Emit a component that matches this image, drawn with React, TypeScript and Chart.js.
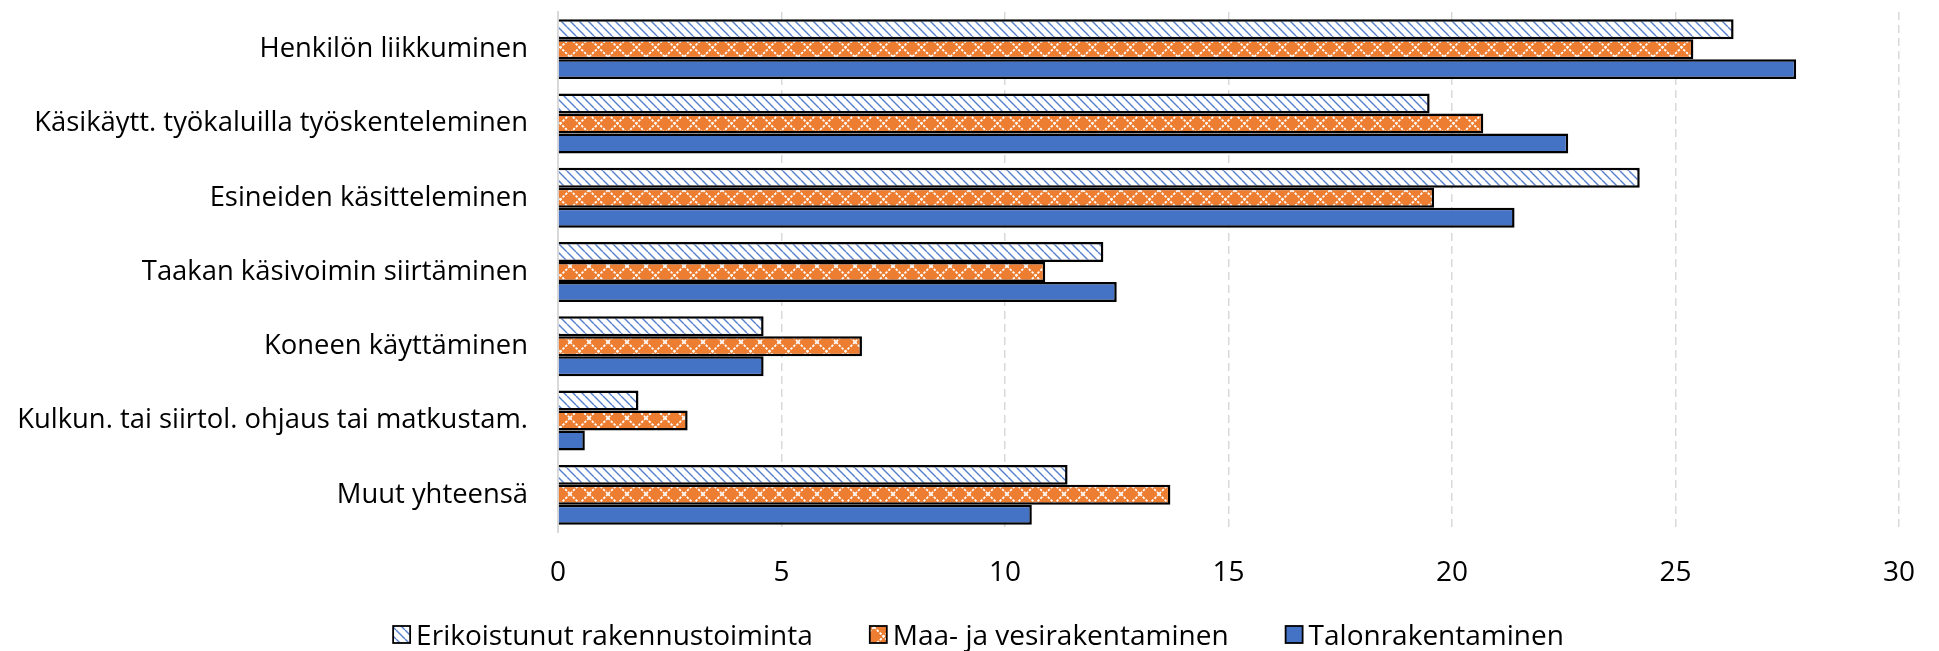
import React, { useEffect, useRef } from "react";
import { Chart, registerables } from "chart.js";

Chart.register(...registerables);

const categories = [
  "Henkilön liikkuminen",
  "Käsikäytt. työkaluilla työskenteleminen",
  "Esineiden käsitteleminen",
  "Taakan käsivoimin siirtäminen",
  "Koneen käyttäminen",
  "Kulkun. tai siirtol. ohjaus tai matkustam.",
  "Muut yhteensä",
];

const seriesNames = [
  "Erikoistunut rakennustoiminta",
  "Maa- ja vesirakentaminen",
  "Talonrakentaminen",
];

const erikoistunut = [26.3, 19.5, 24.2, 12.2, 4.6, 1.8, 11.4];
const maaJaVesi = [25.4, 20.7, 19.6, 10.9, 6.8, 2.9, 13.7];
const talonrakentaminen = [27.7, 22.6, 21.4, 12.5, 4.6, 0.6, 10.6];

const xTicks = [0, 5, 10, 15, 20, 25, 30];

const FONT = "'Open Sans', 'Noto Sans', sans-serif";
const FONT_SIZE = 28;
const CAT_FONT_SIZE = 27.4;

function makeHatch(): CanvasPattern | string {
  const s = 9;
  const c = document.createElement("canvas");
  c.width = s;
  c.height = s;
  const g = c.getContext("2d");
  if (!g) return "#fff";
  g.fillStyle = "#ffffff";
  g.fillRect(0, 0, s, s);
  g.strokeStyle = "rgba(68,114,196,0.9)";
  g.lineWidth = 1.4;
  for (const o of [-s, 0, s]) {
    g.beginPath();
    g.moveTo(o, 0);
    g.lineTo(o + s, s);
    g.stroke();
  }
  return g.createPattern(c, "repeat") || "#fff";
}

function makeDiamond(): CanvasPattern | string {
  const s = 19;
  const c = document.createElement("canvas");
  c.width = s;
  c.height = s;
  const g = c.getContext("2d");
  if (!g) return "#ED7D31";
  g.fillStyle = "#ED7D31";
  g.fillRect(0, 0, s, s);
  g.strokeStyle = "#ffffff";
  g.lineWidth = 1.8;
  g.setLineDash([2.5, 1.5]);
  g.beginPath();
  g.moveTo(0, 0);
  g.lineTo(s, s);
  g.stroke();
  g.beginPath();
  g.moveTo(s, 0);
  g.lineTo(0, s);
  g.stroke();
  return g.createPattern(c, "repeat") || "#ED7D31";
}

const legendPlugin = {
  id: "customLegend",
  afterDraw(chart: any) {
    const ctx = chart.ctx as CanvasRenderingContext2D;
    ctx.save();
    ctx.font = `${FONT_SIZE}px ${FONT}`;
    const box = 17;
    const gapBoxText = 6;
    const gapItems = 57;
    const items = chart.data.datasets.map((ds: any) => ({
      text: ds.label as string,
      fill: ds.backgroundColor,
    }));
    const widths = items.map(
      (it: any) => box + gapBoxText + ctx.measureText(it.text).width
    );
    const total =
      widths.reduce((a: number, b: number) => a + b, 0) +
      gapItems * (items.length - 1);
    let x = chart.width / 2 + 9 - total / 2;
    const boxTop = 626;
    const baseline = 645;
    items.forEach((it: any, i: number) => {
      ctx.fillStyle = it.fill;
      ctx.fillRect(x, boxTop, box, box);
      ctx.strokeStyle = "#000";
      ctx.lineWidth = 1.8;
      ctx.strokeRect(x, boxTop, box, box);
      ctx.fillStyle = "#000";
      ctx.textBaseline = "alphabetic";
      ctx.textAlign = "left";
      ctx.fillText(it.text, x + box + gapBoxText, baseline);
      x += widths[i] + gapItems;
    });
    ctx.restore();
  },
};

export default function App() {
  const ref = useRef<HTMLCanvasElement | null>(null);

  useEffect(() => {
    if (!ref.current) return;
    const hatch = makeHatch();
    const diamond = makeDiamond();
    const chart = new Chart(ref.current, {
      type: "bar",
      data: {
        labels: categories,
        datasets: [
          {
            label: seriesNames[0],
            data: erikoistunut,
            backgroundColor: hatch as any,
            borderColor: "#000",
            borderWidth: 2.5,
          },
          {
            label: seriesNames[1],
            data: maaJaVesi,
            backgroundColor: diamond as any,
            borderColor: "#000",
            borderWidth: 2.5,
          },
          {
            label: seriesNames[2],
            data: talonrakentaminen,
            backgroundColor: "#4472C4",
            borderColor: "#000",
            borderWidth: 2.5,
          },
        ],
      },
      options: {
        indexAxis: "y",
        responsive: false,
        animation: false,
        maintainAspectRatio: false,
        layout: { padding: { top: 12, right: 34, bottom: 54, left: 0 } },
        datasets: {
          bar: { categoryPercentage: 0.807, barPercentage: 1.0 },
        },
        plugins: {
          legend: { display: false },
          tooltip: { enabled: false },
        },
        scales: {
          x: {
            type: "linear",
            min: xTicks[0],
            max: xTicks[xTicks.length - 1],
            afterBuildTicks: (scale: any) => {
              scale.ticks = xTicks.map((v) => ({ value: v }));
            },
            afterFit: (scale: any) => {
              scale.height = 65;
            },
            ticks: {
              font: { family: FONT, size: FONT_SIZE },
              color: "#000",
              padding: 24,
            },
            grid: {
              display: true,
              drawTicks: false,
              lineWidth: 1.5,
              color: (c: any) =>
                c.tick && c.tick.value === 0 ? "rgba(0,0,0,0)" : "#d9d9d9",
            },
            border: { display: false, dash: [8, 5] },
          },
          y: {
            type: "category",
            afterFit: (scale: any) => {
              scale.width = 558;
            },
            ticks: {
              font: { family: FONT, size: CAT_FONT_SIZE, lineHeight: 0.85 },
              color: "#000",
              padding: 0,
              autoSkip: false,
            },
            grid: {
              display: true,
              drawOnChartArea: false,
              drawTicks: true,
              tickLength: 30,
              color: "rgba(0,0,0,0)",
              tickColor: "rgba(0,0,0,0)",
            },
            border: { display: true, color: "#d9d9d9", width: 2 },
          },
        },
      },
      plugins: [legendPlugin],
    });
    return () => chart.destroy();
  }, []);

  return (
    <div
      style={{
        position: "fixed",
        left: 0,
        top: 0,
        width: 1939,
        height: 651,
        background: "#fff",
      }}
    >
      <canvas ref={ref} width={1939} height={651} />
    </div>
  );
}
